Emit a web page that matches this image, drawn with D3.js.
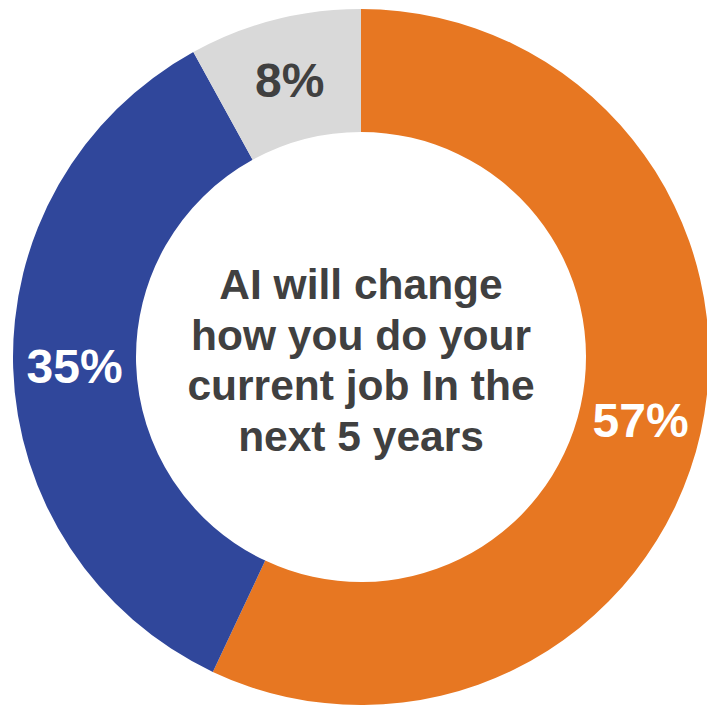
<!DOCTYPE html>
<html>
<head>
<meta charset="utf-8">
<script src="https://cdn.jsdelivr.net/npm/d3@7"></script>
<style>
  html, body { margin: 0; padding: 0; background: #fff; }
  svg { display: block; }
</style>
</head>
<body>
<div id="chart"></div>
<script>
// data
var categories = ["Agree", "Disagree", "Don't know"];
var values = [57, 35, 8];
var labels = ["57%", "35%", "8%"];
var colors = ["#E77722", "#30479B", "#D9D9D9"];
var labelColors = ["#FFFFFF", "#FFFFFF", "#404040"];
var centerLines = ["AI will change", "how you do your", "current job In the", "next 5 years"];

var width = 707, height = 705;
var cx = 361, cy = 357;
var outerR = 348, innerR = 225;

var svg = d3.select("#chart").append("svg")
    .attr("width", width)
    .attr("height", height);

var g = svg.append("g")
    .attr("transform", "translate(" + cx + "," + cy + ")");

var pie = d3.pie().sort(null).value(function (d) { return d; });
var arc = d3.arc().innerRadius(innerR).outerRadius(outerR);
var labelArc = d3.arc().innerRadius((innerR + outerR) / 2).outerRadius((innerR + outerR) / 2);

var arcs = pie(values);

g.selectAll("path.slice").data(arcs)
    .enter().append("path")
    .attr("class", "slice")
    .attr("d", arc)
    .attr("fill", function (d, i) { return colors[i]; });

g.selectAll("text.pct").data(arcs)
    .enter().append("text")
    .attr("class", "pct")
    .attr("transform", function (d) { return "translate(" + labelArc.centroid(d) + ")"; })
    .attr("dy", "0.36em")
    .attr("text-anchor", "middle")
    .style("font-family", "'Liberation Sans', Arial, sans-serif")
    .style("font-weight", "bold")
    .style("font-size", "48px")
    .attr("fill", function (d, i) { return labelColors[i]; })
    .text(function (d, i) { return labels[i]; });

// centre title
var lineH = 50.5;
g.selectAll("text.center").data(centerLines)
    .enter().append("text")
    .attr("class", "center")
    .attr("x", 0)
    .attr("y", function (d, i) { return 299 - cy + i * lineH; })
    .attr("text-anchor", "middle")
    .style("font-family", "'Liberation Sans', Arial, sans-serif")
    .style("font-weight", "bold")
    .style("font-size", "42.5px")
    .attr("fill", "#404040")
    .text(function (d) { return d; });
</script>
</body>
</html>
